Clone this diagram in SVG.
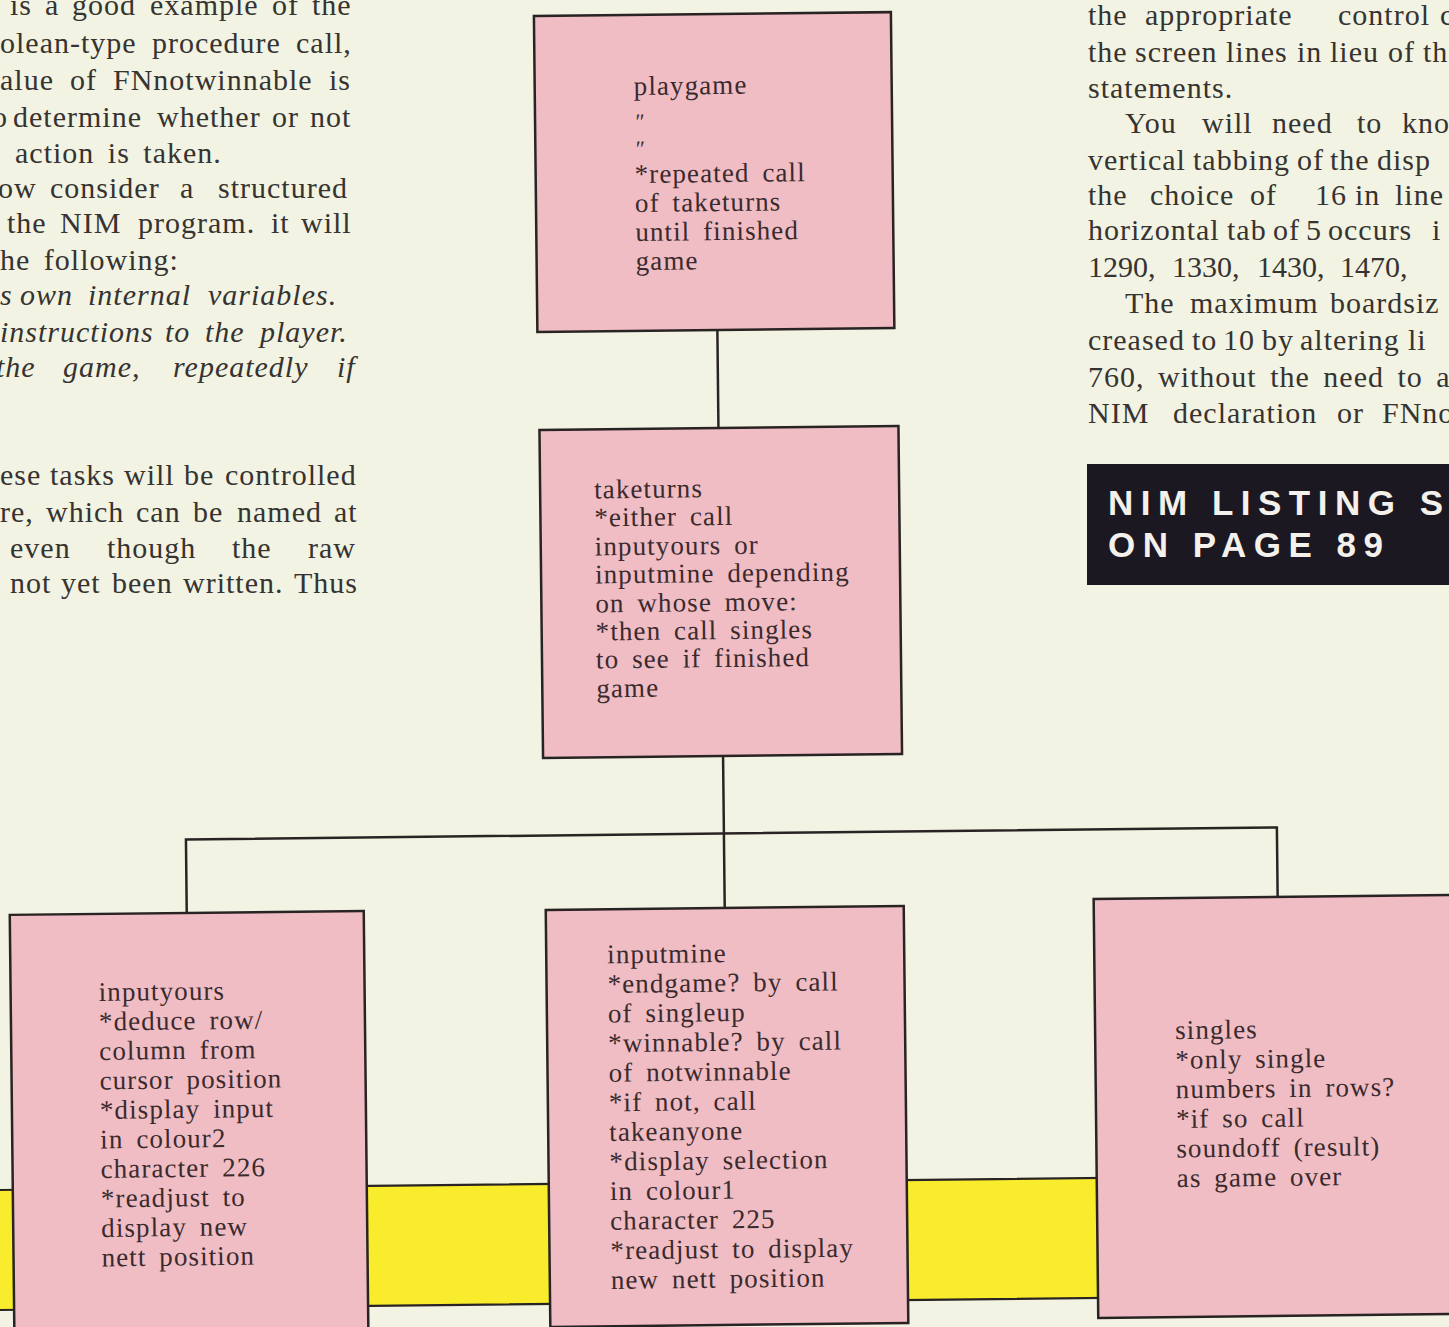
<svg xmlns="http://www.w3.org/2000/svg" width="1449" height="1327" viewBox="0 0 1449 1327">
<style>
.page{font-family:"Liberation Serif","Times New Roman",serif;font-size:30px;fill:#363331;letter-spacing:1px;word-spacing:5px}
.it{font-style:italic}
.box{fill:#efbdc3;stroke:#2a2323;stroke-width:2.5}
.lbl{font-family:"Liberation Serif","Times New Roman",serif;font-size:27px;fill:#3a2a2e;letter-spacing:1.1px;word-spacing:5px}
.dit{font-family:"Liberation Serif","DejaVu Serif",serif;font-size:22px;font-style:italic;fill:#3a2a2e}
.conn{fill:none;stroke:#2a2323;stroke-width:2.5}
.band{fill:#f8ec2c}
.bandline{fill:none;stroke:#2a2323;stroke-width:2.2}
.ban{font-family:"Liberation Sans",Arial,sans-serif;font-weight:bold;font-size:35px;fill:#f4f1ec;letter-spacing:7.5px}
</style>
<rect width="1449" height="1327" fill="#f2f3e3"/>

<g id="page-text-left" class="page">
<text y="15"><tspan x="10">is</tspan><tspan x="45">a</tspan><tspan x="72">good</tspan><tspan x="150">example</tspan><tspan x="272">of</tspan><tspan x="312">the</tspan></text>
<text y="53"><tspan x="0">olean-type</tspan><tspan x="152">procedure</tspan><tspan x="296">call,</tspan></text>
<text y="90"><tspan x="0">alue</tspan><tspan x="70">of</tspan><tspan x="113">FNnotwinnable</tspan><tspan x="329">is</tspan></text>
<text y="127"><tspan x="-8">o</tspan><tspan x="13">determine</tspan><tspan x="157">whether</tspan><tspan x="272">or</tspan><tspan x="310">not</tspan></text>
<text x="15" y="163">action is taken.</text>
<text y="198"><tspan x="-2">ow</tspan><tspan x="50">consider</tspan><tspan x="180">a</tspan><tspan x="218">structured</tspan></text>
<text y="233"><tspan x="7">the</tspan><tspan x="60">NIM</tspan><tspan x="138">program.</tspan><tspan x="271">it</tspan><tspan x="301">will</tspan></text>
<text x="0" y="270">he following:</text>
<text class="it" y="305"><tspan x="0">s</tspan><tspan x="20">own</tspan><tspan x="88">internal</tspan><tspan x="208">variables.</tspan></text>
<text class="it" y="342"><tspan x="0">instructions</tspan><tspan x="165">to</tspan><tspan x="205">the</tspan><tspan x="260">player.</tspan></text>
<text class="it" y="377"><tspan x="-4">the</tspan><tspan x="63">game,</tspan><tspan x="173">repeatedly</tspan><tspan x="337">if</tspan></text>
<text y="485"><tspan x="0">ese</tspan><tspan x="50">tasks</tspan><tspan x="124">will</tspan><tspan x="184">be</tspan><tspan x="225">controlled</tspan></text>
<text y="522"><tspan x="0">re,</tspan><tspan x="46">which</tspan><tspan x="136">can</tspan><tspan x="193">be</tspan><tspan x="237">named</tspan><tspan x="334">at</tspan></text>
<text y="558"><tspan x="10">even</tspan><tspan x="107">though</tspan><tspan x="232">the</tspan><tspan x="308">raw</tspan></text>
<text y="593"><tspan x="10">not</tspan><tspan x="61">yet</tspan><tspan x="112">been</tspan><tspan x="183">written.</tspan><tspan x="294">Thus</tspan></text>
</g>

<g id="page-text-right" class="page">
<text y="25"><tspan x="1088">the</tspan><tspan x="1145">appropriate</tspan><tspan x="1338">control</tspan><tspan x="1440">c</tspan></text>
<text y="62"><tspan x="1088">the</tspan><tspan x="1135">screen</tspan><tspan x="1226">lines</tspan><tspan x="1297">in</tspan><tspan x="1330">lieu</tspan><tspan x="1388">of</tspan><tspan x="1423">th</tspan></text>
<text x="1088" y="98">statements.</text>
<text y="133"><tspan x="1125">You</tspan><tspan x="1202">will</tspan><tspan x="1272">need</tspan><tspan x="1357">to</tspan><tspan x="1402">kno</tspan></text>
<text y="170"><tspan x="1088">vertical</tspan><tspan x="1193">tabbing</tspan><tspan x="1297">of</tspan><tspan x="1330">the</tspan><tspan x="1377">disp</tspan></text>
<text y="205"><tspan x="1088">the</tspan><tspan x="1150">choice</tspan><tspan x="1250">of</tspan><tspan x="1315">16</tspan><tspan x="1355">in</tspan><tspan x="1395">line</tspan></text>
<text y="240"><tspan x="1088">horizontal</tspan><tspan x="1227">tab</tspan><tspan x="1273">of</tspan><tspan x="1306">5</tspan><tspan x="1328">occurs</tspan><tspan x="1432">i</tspan></text>
<text y="277" style="letter-spacing:0"><tspan x="1088">1290,</tspan><tspan x="1172">1330,</tspan><tspan x="1257">1430,</tspan><tspan x="1340">1470,</tspan></text>
<text y="313"><tspan x="1125">The</tspan><tspan x="1190">maximum</tspan><tspan x="1330">boardsiz</tspan></text>
<text y="350"><tspan x="1088">creased</tspan><tspan x="1192">to</tspan><tspan x="1223">10</tspan><tspan x="1262">by</tspan><tspan x="1300">altering</tspan><tspan x="1408">li</tspan></text>
<text x="1088" y="387">760, without the need to al</text>
<text y="423"><tspan x="1088">NIM</tspan><tspan x="1173">declaration</tspan><tspan x="1337">or</tspan><tspan x="1382">FNno</tspan></text>
</g>

<g id="listing-banner">
<rect x="1087" y="464" width="380" height="121" fill="#1c1822"/>
<text class="ban" x="1108" y="515">NIM LISTING S</text>
<text class="ban" x="1108" y="557">ON PAGE 89</text>
</g>

<g id="diagram" transform="rotate(-0.63 724 660)">
<g id="band">
<rect class="band" x="-30" y="1182" width="1530" height="120"/>
<path class="bandline" d="M-30 1182H1500M-30 1302H1500"/>
</g>
<g id="connectors">
<path class="conn" d="M721 330V428"/>
<path class="conn" d="M722 756V908"/>
<path class="conn" d="M184 907V833.5H1275V903"/>
</g>
<g id="playgame">
<rect class="box" x="541" y="14" width="357" height="316"/>
<text class="lbl" x="640" y="94">playgame</text>
<text class="dit" x="640" y="128">″</text>
<text class="dit" x="640" y="155">″</text>
<text class="lbl" x="640" y="182">*repeated call</text>
<text class="lbl" x="640" y="211">of taketurns</text>
<text class="lbl" x="640" y="240">until finished</text>
<text class="lbl" x="640" y="269">game</text>
</g>
<g id="taketurns">
<rect class="box" x="542" y="428" width="359" height="328"/>
<text class="lbl" x="596" y="497">taketurns</text>
<text class="lbl" x="596" y="525">*either call</text>
<text class="lbl" x="596" y="554">inputyours or</text>
<text class="lbl" x="596" y="582">inputmine depending</text>
<text class="lbl" x="596" y="611">on whose move:</text>
<text class="lbl" x="596" y="639">*then call singles</text>
<text class="lbl" x="596" y="667">to see if finished</text>
<text class="lbl" x="596" y="696">game</text>
</g>
<g id="inputyours">
<rect class="box" x="7" y="907" width="354" height="450"/>
<text class="lbl" x="95" y="994">inputyours</text>
<text class="lbl" x="95" y="1023.5">*deduce row/</text>
<text class="lbl" x="95" y="1053">column from</text>
<text class="lbl" x="95" y="1082.5">cursor position</text>
<text class="lbl" x="95" y="1112">*display input</text>
<text class="lbl" x="95" y="1141.5">in colour2</text>
<text class="lbl" x="95" y="1171">character 226</text>
<text class="lbl" x="95" y="1200.5">*readjust to</text>
<text class="lbl" x="95" y="1230">display new</text>
<text class="lbl" x="95" y="1259.5">nett position</text>
</g>
<g id="inputmine">
<rect class="box" x="543" y="908" width="358" height="417"/>
<text class="lbl" x="604" y="962">inputmine</text>
<text class="lbl" x="604" y="991.6">*endgame? by call</text>
<text class="lbl" x="604" y="1021.2">of singleup</text>
<text class="lbl" x="604" y="1050.8">*winnable? by call</text>
<text class="lbl" x="604" y="1080.4">of notwinnable</text>
<text class="lbl" x="604" y="1110">*if not, call</text>
<text class="lbl" x="604" y="1139.6">takeanyone</text>
<text class="lbl" x="604" y="1169.2">*display selection</text>
<text class="lbl" x="604" y="1198.8">in colour1</text>
<text class="lbl" x="604" y="1228.4">character 225</text>
<text class="lbl" x="604" y="1258">*readjust to display</text>
<text class="lbl" x="604" y="1287.6">new nett position</text>
</g>
<g id="singles">
<rect class="box" x="1091" y="903" width="390" height="419"/>
<text class="lbl" x="1171" y="1044">singles</text>
<text class="lbl" x="1171" y="1073.6">*only single</text>
<text class="lbl" x="1171" y="1103.2">numbers in rows?</text>
<text class="lbl" x="1171" y="1132.8">*if so call</text>
<text class="lbl" x="1171" y="1162.4">soundoff (result)</text>
<text class="lbl" x="1171" y="1192">as game over</text>
</g>
</g>
</svg>
